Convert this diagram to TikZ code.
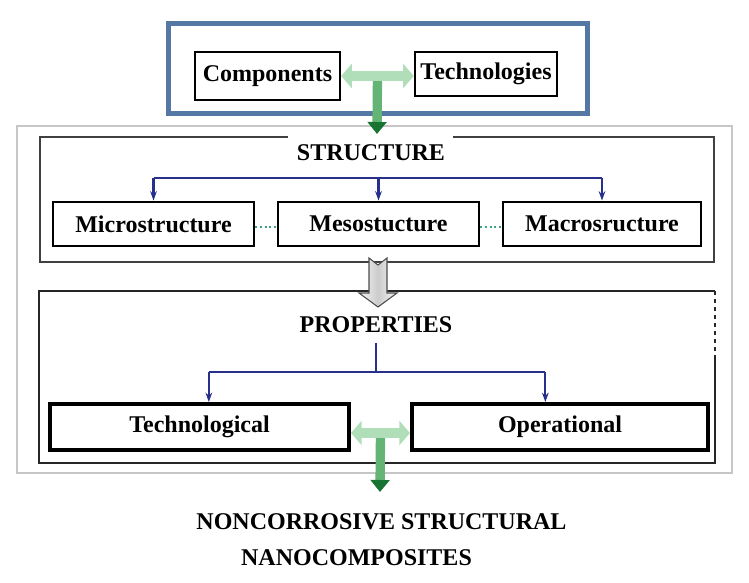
\documentclass[tikz,border=0pt]{standalone}
\usepackage{fontspec}
\setmainfont{Liberation Serif}
\usepackage{xcolor}
\definecolor{frameblue}{RGB}{84,120,163}
\definecolor{linkblue}{RGB}{40,48,140}
\definecolor{tgreen}{RGB}{176,222,184}
\definecolor{tmid}{RGB}{100,180,118}
\definecolor{tdark}{RGB}{25,115,50}
\definecolor{dotgreen}{RGB}{60,165,125}
\usetikzlibrary{arrows.meta,calc}

\tikzset{
  lbl/.style={font=\fontsize{18}{21}\selectfont\bfseries, inner sep=0pt},
  item/.style={lbl, draw=black, fill=white, line width=2pt},
  branch/.style={linkblue, line width=1.6pt, -{Stealth[length=7pt,width=5pt]}},
  linkbar/.style={linkblue, line width=1.6pt},
  dotlink/.style={dotgreen, line width=1.5pt, dotted},
  tbar/.style={tgreen, line width=8pt, {Triangle[length=8pt,width=18pt]}-{Triangle[length=8pt,width=18pt]}},
  tstem/.style={tmid, line width=7pt, -{Triangle[length=9pt,width=14pt,fill=tdark,color=tdark]}},
  hollow/.style={draw=black!70, line width=0.8pt, left color=gray!8, right color=gray!8, middle color=gray!40}
}

\begin{document}
\begin{tikzpicture}[x=0.75pt, y=-0.75pt]
  \useasboundingbox (0,0) rectangle (749,582);

  %% Frames
  \draw[gray!45, line width=2.2pt] (17,126) rectangle (732,473);
  \draw[frameblue, line width=3.75pt] (168,23) rectangle (587,113);
  \draw[black!75, line width=1.6pt] (288,137) -| (40,262) -| (714,137) -- (453,137);
  \draw[black!85, line width=1.8pt] (715,357) -- (715,463) -- (39,463) -- (39,291) -- (715,291);
  \draw[black!85, line width=1.2pt, dashed] (715,291) -- (715,357);

  %% Inputs
  \node[item, line width=1.8pt, minimum width=108.75pt, minimum height=36pt] (comp) at (267.5,76) {Components};
  \node[item, line width=1.8pt, minimum width=106.5pt, minimum height=33pt]  (tech) at (486,74)  {Technologies};

  %% Structure
  \node[lbl] (strc) at (371,153) {STRUCTURE};
  \node[item, line width=2.2pt, minimum width=150.75pt, minimum height=33pt] (micro) at (153.5,224) {Microstructure};
  \node[item, line width=2.2pt, minimum width=150.75pt, minimum height=33pt] (meso)  at (378.5,224) {Mesostucture};
  \node[item, line width=2.2pt, minimum width=148.5pt, minimum height=33pt]  (macro) at (602,224)   {Macrosructure};
  \coordinate (sbar) at (378.5,178);

  \draw[linkbar] (micro.north |- sbar) -- (macro.north |- sbar);
  \draw[branch] (micro.north |- sbar) -- (micro.north);
  \draw[branch] (sbar) -- (meso.north);
  \draw[branch] (macro.north |- sbar) -- (macro.north);

  \draw[dotlink] ([yshift=-2pt]micro.east) -- ([yshift=-2pt]meso.west);
  \draw[dotlink] ([yshift=-2pt]meso.east) -- ([yshift=-2pt]macro.west);

  %% Structure -> properties
  \draw[hollow] (369,258) -- (378,265) -- (387,258) -- (387,293) -- (397,293) -- (378,307) -- (359,293) -- (369,293) -- cycle;

  %% Properties
  \node[lbl] (prop) at (376,325) {PROPERTIES};
  \node[item, line width=3pt, minimum width=224.25pt, minimum height=34.5pt] (techl) at (199.5,427) {Technological};
  \node[item, line width=3pt, minimum width=222pt, minimum height=34.5pt]    (oper)  at (560,427)   {Operational};
  \coordinate (pbar) at (376,372);

  \draw[linkbar] ([yshift=-7pt]prop.south) -- (pbar);
  \draw[linkbar] ([xshift=7pt]techl.north |- pbar) -- ([xshift=-11pt]oper.north |- pbar);
  \draw[branch] ([xshift=7pt]techl.north |- pbar) -- ([xshift=7pt]techl.north);
  \draw[branch] ([xshift=-11pt]oper.north |- pbar) -- ([xshift=-11pt]oper.north);

  %% Result
  \node[lbl] (goal)  at (381.5,522) {NONCORROSIVE STRUCTURAL};
  \node[lbl] (goalb) at (356.5,558) {NANOCOMPOSITES};
  \coordinate (topend) at (377,134);
  \coordinate (botend) at (380,492);

  %% Green T arrows
  \draw[tstem] ($(comp.east)!.5!(tech.west)$) -- (topend);
  \draw[tbar] (comp.east) -- (tech.west |- comp.east);
  \draw[tstem] ($([yshift=-4.5pt]techl.east)!.5!([yshift=-4.5pt]oper.west)$) -- (botend);
  \draw[tbar] ([yshift=-4.5pt]techl.east) -- ([yshift=-4.5pt]oper.west);
\end{tikzpicture}
\end{document}
